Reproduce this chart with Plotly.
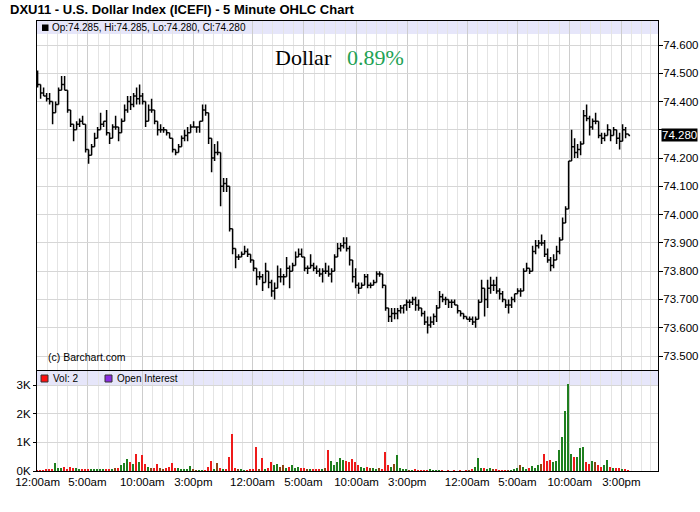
import plotly.graph_objects as go

# ---------------- data ----------------
# one entry per bar slot (each slot = a group of 5-minute bars), oldest first
high = [74.51, 74.46, 74.45, 74.43, 74.43, 74.40, 74.40, 74.45, 74.49, 74.49,
        74.44, 74.37, 74.32, 74.33, 74.34, 74.35, 74.32, 74.23, 74.25, 74.29,
        74.31, 74.36, 74.33, 74.37, 74.29, 74.32, 74.35, 74.31, 74.34, 74.39,
        74.42, 74.42, 74.43, 74.45, 74.46, 74.43, 74.40, 74.39, 74.41, 74.37,
        74.33, 74.32, 74.31, 74.30, 74.29, 74.27, 74.23, 74.25, 74.28, 74.30,
        74.31, 74.32, 74.33, 74.31, 74.33, 74.39, 74.39, 74.36, 74.27, 74.25,
        74.26, 74.22, 74.13, 74.13, 74.10, 73.95, 73.88, 73.86, 73.87, 73.89,
        73.88, 73.86, 73.84, 73.81, 73.80, 73.79, 73.83, 73.80, 73.77, 73.76,
        73.82, 73.81, 73.79, 73.85, 73.82, 73.83, 73.87, 73.88, 73.88, 73.85,
        73.82, 73.86, 73.83, 73.82, 73.81, 73.81, 73.83, 73.82, 73.81, 73.86,
        73.90, 73.90, 73.92, 73.92, 73.89, 73.84, 73.81, 73.76, 73.76, 73.79,
        73.79, 73.76, 73.77, 73.80, 73.80, 73.79, 73.75, 73.67, 73.67, 73.67,
        73.67, 73.68, 73.68, 73.70, 73.70, 73.71, 73.71, 73.70, 73.67, 73.66,
        73.64, 73.64, 73.65, 73.68, 73.73, 73.72, 73.71, 73.70, 73.70, 73.70,
        73.68, 73.66, 73.65, 73.64, 73.64, 73.64, 73.64, 73.70, 73.77, 73.74,
        73.77, 73.78, 73.77, 73.78, 73.74, 73.73, 73.70, 73.70, 73.71, 73.72,
        73.74, 73.74, 73.81, 73.83, 73.81, 73.89, 73.91, 73.91, 73.93, 73.91,
        73.88, 73.85, 73.86, 73.89, 73.92, 73.99, 74.03, 74.19, 74.30, 74.27,
        74.25, 74.26, 74.37, 74.39, 74.35, 74.34, 74.36, 74.33, 74.29, 74.29,
        74.32, 74.30, 74.31, 74.30, 74.29, 74.32, 74.31, 74.285]

low = [74.45, 74.41, 74.42, 74.40, 74.39, 74.32, 74.36, 74.39, 74.44, 74.44,
       74.36, 74.31, 74.26, 74.30, 74.31, 74.32, 74.22, 74.18, 74.21, 74.24,
       74.27, 74.30, 74.31, 74.28, 74.25, 74.27, 74.30, 74.26, 74.29, 74.33,
       74.36, 74.37, 74.38, 74.39, 74.39, 74.39, 74.31, 74.33, 74.36, 74.32,
       74.28, 74.29, 74.29, 74.28, 74.27, 74.22, 74.21, 74.22, 74.24, 74.26,
       74.26, 74.29, 74.31, 74.29, 74.29, 74.33, 74.35, 74.25, 74.15, 74.19,
       74.21, 74.03, 74.08, 74.08, 73.94, 73.86, 73.81, 73.84, 73.85, 73.86,
       73.85, 73.83, 73.80, 73.75, 73.77, 73.73, 73.76, 73.74, 73.71, 73.70,
       73.74, 73.76, 73.75, 73.78, 73.74, 73.80, 73.82, 73.85, 73.85, 73.80,
       73.79, 73.81, 73.80, 73.79, 73.78, 73.76, 73.79, 73.78, 73.76, 73.80,
       73.85, 73.87, 73.88, 73.87, 73.82, 73.76, 73.74, 73.72, 73.74, 73.75,
       73.74, 73.74, 73.75, 73.76, 73.78, 73.74, 73.66, 73.62, 73.62, 73.63,
       73.63, 73.65, 73.65, 73.66, 73.67, 73.68, 73.66, 73.66, 73.64, 73.61,
       73.58, 73.60, 73.61, 73.62, 73.67, 73.69, 73.68, 73.67, 73.67, 73.68,
       73.65, 73.64, 73.63, 73.63, 73.62, 73.61, 73.60, 73.63, 73.69, 73.64,
       73.67, 73.72, 73.73, 73.72, 73.70, 73.69, 73.67, 73.65, 73.67, 73.69,
       73.72, 73.71, 73.73, 73.80, 73.79, 73.80, 73.86, 73.88, 73.89, 73.85,
       73.83, 73.80, 73.81, 73.84, 73.86, 73.91, 73.97, 74.02, 74.19, 74.20,
       74.20, 74.21, 74.25, 74.33, 74.28, 74.30, 74.32, 74.27, 74.25, 74.26,
       74.28, 74.26, 74.28, 74.25, 74.23, 74.26, 74.27, 74.28]

close = [74.46, 74.43, 74.42, 74.41, 74.40, 74.36, 74.39, 74.44, 74.46, 74.44,
         74.37, 74.32, 74.30, 74.32, 74.33, 74.32, 74.23, 74.21, 74.24, 74.27,
         74.30, 74.32, 74.33, 74.29, 74.27, 74.31, 74.31, 74.29, 74.33, 74.37,
         74.40, 74.39, 74.42, 74.41, 74.42, 74.40, 74.33, 74.37, 74.37, 74.33,
         74.30, 74.30, 74.30, 74.29, 74.27, 74.23, 74.22, 74.24, 74.27, 74.28,
         74.29, 74.31, 74.31, 74.31, 74.33, 74.37, 74.36, 74.27, 74.20, 74.22,
         74.22, 74.10, 74.11, 74.10, 73.95, 73.88, 73.85, 73.85, 73.86, 73.87,
         73.86, 73.84, 73.81, 73.78, 73.78, 73.76, 73.80, 73.76, 73.73, 73.74,
         73.78, 73.78, 73.78, 73.81, 73.80, 73.82, 73.85, 73.86, 73.85, 73.81,
         73.81, 73.82, 73.81, 73.80, 73.79, 73.80, 73.80, 73.79, 73.80, 73.85,
         73.88, 73.89, 73.90, 73.88, 73.84, 73.78, 73.75, 73.74, 73.75, 73.78,
         73.75, 73.75, 73.76, 73.79, 73.79, 73.75, 73.67, 73.64, 73.65, 73.65,
         73.66, 73.67, 73.68, 73.69, 73.69, 73.70, 73.68, 73.67, 73.65, 73.62,
         73.61, 73.62, 73.64, 73.67, 73.71, 73.70, 73.70, 73.69, 73.69, 73.68,
         73.66, 73.65, 73.64, 73.63, 73.63, 73.62, 73.63, 73.69, 73.74, 73.70,
         73.74, 73.75, 73.75, 73.73, 73.72, 73.70, 73.68, 73.68, 73.70, 73.72,
         73.73, 73.73, 73.80, 73.81, 73.80, 73.87, 73.89, 73.90, 73.90, 73.86,
         73.84, 73.82, 73.84, 73.87, 73.91, 73.97, 74.02, 74.19, 74.24, 74.22,
         74.23, 74.25, 74.35, 74.34, 74.31, 74.33, 74.33, 74.28, 74.27, 74.28,
         74.30, 74.28, 74.30, 74.27, 74.26, 74.30, 74.285, 74.28]

first_open = 74.47

volume = [30, 20, 30, 50, 80, 60, 270, 120, 100, 140,
          80, 130, 100, 120, 50, 40, 60, 50, 60, 50,
          70, 50, 60, 50, 80, 70, 100, 120, 200, 280,
          420, 300, 250, 600, 300, 560, 250, 150, 120, 100,
          250, 100, 80, 100, 150, 280, 120, 100, 80, 60,
          70, 180, 50, 20, 10, 20, 30, 150, 350, 50,
          280, 100, 50, 80, 500, 1300, 100, 50, 40, 20,
          30, 40, 80, 850, 50, 450, 80, 100, 300, 200,
          250, 150, 200, 120, 150, 200, 120, 150, 100, 120,
          60, 50, 80, 50, 70, 60, 100, 720, 350, 200,
          300, 450, 400, 350, 300, 420, 300, 200, 150, 120,
          150, 100, 120, 80, 100, 80, 650, 200, 150, 250,
          550, 100, 50, 40, 30, 20, 50, 10, 20, 30,
          20, 40, 30, 20, 10, 10, 0, 10, 0, 10,
          0, 10, 0, 10, 20, 80, 150, 450, 120, 100,
          80, 100, 50, 40, 10, 20, 10, 20, 10, 50,
          100, 200, 150, 80, 100, 180, 120, 200, 250, 600,
          350, 400, 300, 350, 750, 1200, 2100, 3020, 600, 500,
          500, 800, 850, 300, 250, 350, 300, 200, 150, 200,
          400, 150, 120, 100, 120, 80, 50, 20]

price_ticks = [73.5, 73.6, 73.7, 73.8, 73.9, 74.0, 74.1, 74.2, 74.3, 74.4, 74.5, 74.6]
price_tick_labels = ["73.500", "73.600", "73.700", "73.800", "73.900", "74.000",
                     "74.100", "74.200", "", "74.400", "74.500", "74.600"]
time_tick_slots = [0, 16.6, 34.9, 51.9, 71.6, 88.6, 106.3, 123.2, 143.2, 159.9, 177.4, 194.6]
time_tick_labels = ["12:00am", "5:00am", "10:00am", "3:00pm",
                    "12:00am", "5:00am", "10:00am", "3:00pm",
                    "12:00am", "5:00am", "10:00am", "3:00pm"]
vol_ticks = [0, 1000, 2000, 3000]
vol_tick_labels = ["0K", "1K", "2K", "3K"]

last_bar = {"Op": 74.285, "Hi": 74.285, "Lo": 74.280, "Cl": 74.280}
last_price = 74.280
last_volume = 2
symbol_name = "Dollar"
change_pct = 0.89
title = "DXU11 - U.S. Dollar Index (ICEFI) - 5 Minute OHLC Chart"

# ---------------- derived ----------------
slots = list(range(len(high)))
opens = [first_open] + close[:-1]
UP, DOWN, FLAT = "#1f7f1f", "#ee1a1a", "#8b4513"
vol_colors = [UP if c > o else (DOWN if c < o else FLAT) for o, c in zip(opens, close)]

X_MAX = 206.8
# hourly minor gridlines between labelled ticks
minor_pos = []
for k, a in enumerate(time_tick_slots):
    n = 6 if time_tick_labels[k] == "3:00pm" else 5
    if k + 1 < len(time_tick_slots):
        b = time_tick_slots[k + 1]
        step = (b - a) / n
    else:
        step = (time_tick_slots[4] - time_tick_slots[3]) / 6
    for j in range(1, n):
        p = a + j * step
        if p < X_MAX:
            minor_pos.append(p)

# ---------------- figure ----------------
FONT = "Arial, Liberation Sans, sans-serif"
SERIF = "Liberation Serif, Times New Roman, serif"
fig = go.Figure()
fig.add_trace(go.Ohlc(
    x=slots, open=opens, high=high, low=low, close=close,
    xaxis="x", yaxis="y",
    increasing=dict(line=dict(color="black", width=1.5)),
    decreasing=dict(line=dict(color="black", width=1.5)),
    tickwidth=0.5, hoverinfo="skip", showlegend=False,
))
fig.add_trace(go.Bar(
    x=slots, y=volume, marker=dict(color=vol_colors, line=dict(width=0)),
    width=0.5, xaxis="x", yaxis="y2", hoverinfo="skip", showlegend=False,
))

MAIN_LO = 101 / 450
VOL_HI = 100 / 450
fig.update_layout(
    template="none",
    width=700, height=512,
    margin=dict(l=37, r=42, t=21, b=41, autoexpand=False),
    paper_bgcolor="white", plot_bgcolor="white",
    showlegend=False,
    font=dict(family=FONT, size=11, color="black"),
    bargap=0,
    xaxis=dict(
        domain=[0, 1], anchor="y2", range=[-0.2, X_MAX], automargin=False,
        tickmode="array", tickvals=time_tick_slots, ticktext=time_tick_labels,
        ticks="", showgrid=True, gridcolor="#cdcdcd", gridwidth=1,
        minor=dict(tickvals=minor_pos, showgrid=True, gridcolor="#e4e4e4", ticks=""),
        showline=True, linecolor="black", linewidth=1, mirror="all",
        zeroline=False, rangeslider=dict(visible=False),
        tickfont=dict(size=11.5, family=FONT, color="black"),
    ),
    yaxis=dict(
        domain=[MAIN_LO, 1], anchor="x", side="right", automargin=False,
        range=[73.4505, 74.6849],
        tickmode="array", tickvals=price_ticks, ticktext=price_tick_labels,
        ticks="outside", ticklen=4, tickcolor="black", ticklabelstandoff=-2,
        showgrid=True, gridcolor="#d6d6d6", gridwidth=1,
        showline=True, linecolor="black", linewidth=1, mirror=True,
        zeroline=False, tickfont=dict(size=11.5, family=FONT, color="black"),
    ),
    yaxis2=dict(
        domain=[0, VOL_HI], anchor="x", side="left", automargin=False,
        range=[0, 3490],
        tickmode="array", tickvals=vol_ticks, ticktext=vol_tick_labels,
        ticks="outside", ticklen=3, tickcolor="black",
        showgrid=True, gridcolor="#d6d6d6", gridwidth=1,
        showline=True, linecolor="black", linewidth=1, mirror=True,
        zeroline=False, tickfont=dict(size=11.5, family=FONT, color="black"),
    ),
)

# header bands inside the panels
fig.add_shape(type="rect", xref="x domain", yref="y domain", x0=0, x1=1,
              y0=1 - 13 / 349, y1=1, fillcolor="#e6e6fa", line=dict(width=0), layer="below")
fig.add_shape(type="rect", xref="x domain", yref="y2 domain", x0=0, x1=1,
              y0=1 - 14 / 100, y1=1, fillcolor="#e6e6fa", line=dict(width=0), layer="below")

def px_x(p):
    return (p - 37) / 621

def px_y(p):
    return (471 - p) / 450

# legend squares
fig.add_shape(type="rect", xref="paper", yref="paper", x0=px_x(42), x1=px_x(48.5),
              y0=px_y(31), y1=px_y(24.5), fillcolor="black", line=dict(width=0))
fig.add_shape(type="rect", xref="paper", yref="paper", x0=px_x(41), x1=px_x(48),
              y0=px_y(382), y1=px_y(375), fillcolor="#ff1010", line=dict(color="#333333", width=1))
fig.add_shape(type="rect", xref="paper", yref="paper", x0=px_x(105), x1=px_x(112),
              y0=px_y(382), y1=px_y(375), fillcolor="#8a2be2", line=dict(color="#333333", width=1))

ohlc_text = ", ".join(f"{k}:{v:.3f}" for k, v in last_bar.items())
ann = [
    dict(text=f"<b>{title}</b>", x=px_x(9), y=px_y(9), xanchor="left", yanchor="middle",
         font=dict(size=13, family=FONT, color="black")),
    dict(text=ohlc_text, x=px_x(51), y=px_y(27.5), xanchor="left", yanchor="middle",
         font=dict(size=10, family=FONT, color="black")),
    dict(text=f"Vol: {last_volume}", x=px_x(51.5), y=px_y(378.5), xanchor="left", yanchor="middle",
         font=dict(size=10, family=FONT, color="black")),
    dict(text="Open Interest", x=px_x(115.5), y=px_y(378.5), xanchor="left", yanchor="middle",
         font=dict(size=10, family=FONT, color="black")),
    dict(text="(c) Barchart.com", x=px_x(47), y=px_y(357), xanchor="left", yanchor="middle",
         font=dict(size=10.5, family=FONT, color="black")),
    dict(text=symbol_name, x=px_x(333), y=px_y(58), xanchor="right", yanchor="middle",
         font=dict(size=22, family=SERIF, color="black")),
    dict(text=f"{change_pct:.2f}%", x=px_x(346), y=px_y(58), xanchor="left", yanchor="middle",
         font=dict(size=22, family=SERIF, color="#22a255")),
]
for a in ann:
    fig.add_annotation(xref="paper", yref="paper", showarrow=False, borderpad=0, **a)

fig.add_annotation(xref="paper", yref="y", x=1, y=last_price, xanchor="left", yanchor="middle",
                   xshift=3, text=f"{last_price:.3f}", showarrow=False,
                   font=dict(size=11.5, family=FONT, color="white"),
                   bgcolor="black", borderpad=0)

# remove the browser's default 8px page margin so the figure sits at (0, 0)
fig.write_html("out.html", config={"displayModeBar": False},
               post_script="document.body.style.margin='0';")
